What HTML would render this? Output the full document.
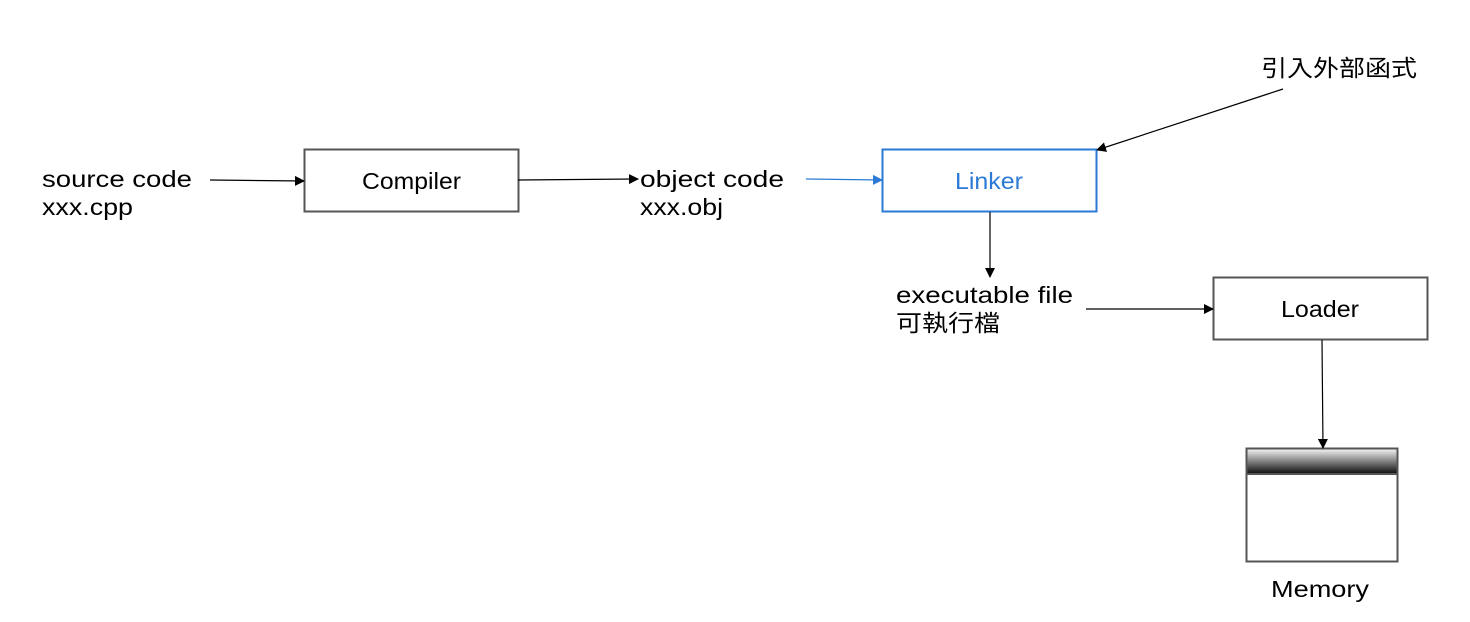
<!DOCTYPE html>
<html><head><meta charset="utf-8"><style>
html,body{margin:0;padding:0;background:#fff;}
svg{display:block;}
text{font-family:"Liberation Sans","Noto Sans CJK TC",sans-serif;font-size:23px;fill:#000;}
</style></head><body>
<svg width="1470" height="622" viewBox="0 0 1470 622" xmlns="http://www.w3.org/2000/svg">
<defs>
<marker id="a" markerWidth="10" markerHeight="10" refX="9" refY="5" orient="auto" markerUnits="userSpaceOnUse"><path d="M0,0 L10,5 L0,10 z" fill="#000"/></marker>
<marker id="b" markerWidth="10" markerHeight="10" refX="9" refY="5" orient="auto" markerUnits="userSpaceOnUse"><path d="M0,0 L10,5 L0,10 z" fill="#2a7ad6"/></marker>
<linearGradient id="g" x1="0" y1="0" x2="0" y2="1"><stop offset="0" stop-color="#eee"/><stop offset="1" stop-color="#111"/></linearGradient>
</defs>
<rect x="304.5" y="149.5" width="214" height="62" fill="#fff" stroke="#555" stroke-width="2"/>
<text x="362" y="189" textLength="99" lengthAdjust="spacingAndGlyphs">Compiler</text>
<rect x="882.5" y="149.5" width="214" height="62" fill="#fff" stroke="#2a7ad6" stroke-width="2"/>
<text x="955" y="189" textLength="68" lengthAdjust="spacingAndGlyphs" style="fill:#2a7ad6">Linker</text>
<rect x="1213.5" y="277.5" width="214" height="62" fill="#fff" stroke="#555" stroke-width="2"/>
<text x="1281" y="317" textLength="78" lengthAdjust="spacingAndGlyphs">Loader</text>
<rect x="1246.5" y="448.5" width="151" height="113" fill="#fff" stroke="#555" stroke-width="2"/>
<rect x="1247.5" y="449.5" width="149" height="24" fill="url(#g)"/>
<line x1="1246" y1="474" x2="1398" y2="474" stroke="#555" stroke-width="2"/>
<text x="1271" y="597" textLength="98" lengthAdjust="spacingAndGlyphs">Memory</text>
<text x="42" y="187" textLength="150" lengthAdjust="spacingAndGlyphs">source code</text>
<text x="42" y="215" textLength="91" lengthAdjust="spacingAndGlyphs">xxx.cpp</text>
<text x="640" y="187" textLength="144" lengthAdjust="spacingAndGlyphs">object code</text>
<text x="640" y="215" textLength="83" lengthAdjust="spacingAndGlyphs">xxx.obj</text>
<text x="896" y="303" textLength="177" lengthAdjust="spacingAndGlyphs">executable file</text>
<text x="896" y="331" textLength="104" lengthAdjust="spacingAndGlyphs">可執行檔</text>
<text x="1261" y="76" textLength="156" lengthAdjust="spacingAndGlyphs">引入外部函式</text>
<g stroke="#000" stroke-width="1.2" fill="none">
<line x1="210" y1="180" x2="304" y2="181" marker-end="url(#a)"/>
<line x1="518" y1="180" x2="638" y2="179" marker-end="url(#a)"/>
<line x1="990" y1="212" x2="990" y2="277" marker-end="url(#a)"/>
<line x1="1086" y1="309" x2="1213" y2="309" marker-end="url(#a)"/>
<line x1="1322" y1="340" x2="1323" y2="448" marker-end="url(#a)"/>
<line x1="1283" y1="89" x2="1097" y2="150" marker-end="url(#a)"/>
</g>
<line x1="806" y1="179" x2="882" y2="180" stroke="#2a7ad6" stroke-width="1.2" marker-end="url(#b)"/>
</svg>
</body></html>
